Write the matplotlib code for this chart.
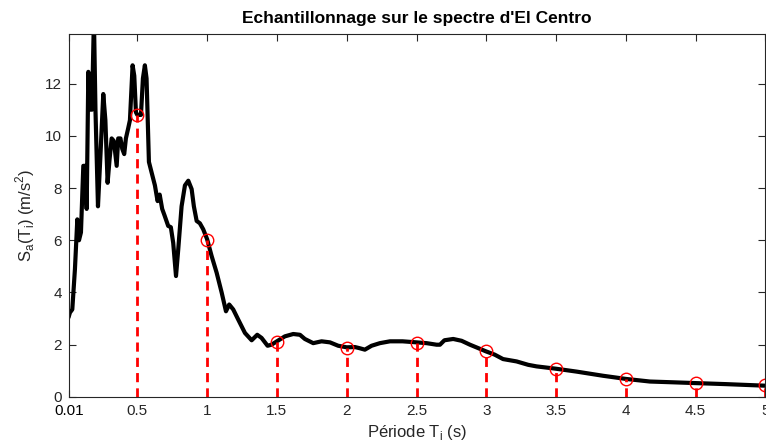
import numpy as np
import matplotlib.pyplot as plt

plt.rcParams['font.family'] = ['Liberation Sans', 'DejaVu Sans']

# spectre d'El Centro
T = [0.01, 0.017, 0.034, 0.053, 0.07, 0.082, 0.096, 0.113, 0.125, 0.137,
     0.149, 0.16, 0.168, 0.175, 0.189, 0.2, 0.218, 0.237, 0.256, 0.271,
     0.287, 0.301, 0.316, 0.332, 0.352, 0.363, 0.379, 0.392, 0.406, 0.418,
     0.435, 0.447, 0.466, 0.478, 0.49, 0.5, 0.526, 0.54, 0.554, 0.566,
     0.583, 0.602, 0.626, 0.645, 0.66, 0.678, 0.695, 0.721, 0.74, 0.757,
     0.777, 0.793, 0.817, 0.841, 0.865, 0.889, 0.905, 0.925, 0.948, 0.972,
     1.0, 1.032, 1.068, 1.104, 1.135, 1.158, 1.187, 1.223, 1.271, 1.319,
     1.359, 1.39, 1.433, 1.461, 1.5, 1.557, 1.617, 1.665, 1.70, 1.76,
     1.82, 1.88, 1.939, 2.0, 2.059, 2.09, 2.13, 2.178, 2.238, 2.31,
     2.40, 2.5, 2.572, 2.644, 2.668, 2.70, 2.763, 2.823, 2.883, 2.942,
     3.0, 3.06, 3.12, 3.217, 3.30, 3.36, 3.5, 3.647, 3.837, 4.0,
     4.172, 4.34, 4.5, 4.72, 5.0]
Sa = [3.1, 3.23, 3.35, 4.9, 6.8, 6.0, 6.3, 8.85, 8.85, 7.2,
      12.45, 11.0, 12.2, 11.0, 14.5, 11.0, 7.3, 9.4, 11.6, 10.6,
      8.2, 9.1, 9.9, 9.8, 8.85, 9.9, 9.9, 9.5, 9.3, 9.9,
      10.3, 10.6, 12.7, 12.3, 10.9, 10.8, 10.8, 12.2, 12.7, 12.2,
      9.0, 8.6, 8.1, 7.5, 7.75, 7.2, 6.95, 6.55, 6.5, 5.9,
      4.63, 5.65, 7.3, 8.1, 8.28, 7.96, 7.3, 6.74, 6.65, 6.42,
      6.04, 5.4, 4.76, 4.0, 3.28, 3.54, 3.35, 2.96, 2.45, 2.17,
      2.38, 2.26, 1.96, 2.0, 2.13, 2.32, 2.41, 2.38, 2.22, 2.06,
      2.13, 2.09, 1.96, 1.9, 1.91, 1.87, 1.81, 1.96, 2.06, 2.13,
      2.13, 2.09, 2.06, 2.0, 2.0, 2.17, 2.22, 2.15, 2.0, 1.87,
      1.74, 1.62, 1.45, 1.36, 1.23, 1.17, 1.08, 0.97, 0.81, 0.69,
      0.59, 0.56, 0.53, 0.49, 0.43]

# points echantillonnes
Ti = [0.5, 1.0, 1.5, 2.0, 2.5, 3.0, 3.5, 4.0, 4.5, 5.0]
Sa_i = [10.8, 6.0, 2.12, 1.88, 2.07, 1.75, 1.06, 0.70, 0.54, 0.45]

xticks = [0.01, 0.5, 1, 1.5, 2, 2.5, 3, 3.5, 4, 4.5, 5]
xticklabels = ['0.01', '0.5', '1', '1.5', '2', '2.5', '3', '3.5', '4', '4.5', '5']

grey = '#262626'

fig = plt.figure(figsize=(7.66, 4.47), dpi=100)
ax = fig.add_axes([0.090, 0.112, 0.9093, 0.812])

ax.plot(T, Sa, color='black', linewidth=3)
ax.vlines(Ti, 0, Sa_i, colors='red', linewidth=2, linestyles=(0, (3.3, 2.2)))
ax.plot(Ti, Sa_i, 'o', markersize=9, markerfacecolor='none',
        markeredgecolor='red', markeredgewidth=1)

ax.set_xlim(0.01, 5)
ax.set_ylim(0, 13.9)
ax.set_xticks(xticks)
ax.set_xticklabels(xticklabels)
ax.set_yticks([0, 2, 4, 6, 8, 10, 12])
ax.tick_params(direction='in', top=True, right=True, labelsize=11,
               colors=grey, length=5, width=0.8, pad=5)
ax.get_xticklabels()[0].set_color('black')
for s in ax.spines.values():
    s.set_color(grey)
    s.set_linewidth(0.8)

ax.set_title("Echantillonnage sur le spectre d'El Centro", fontsize=12.5,
             fontweight='bold', pad=8)
ax.set_xlabel('Période T$_\\mathregular{i}$ (s)', fontsize=12, color=grey)
ax.set_ylabel('S$_\\mathregular{a}$(T$_\\mathregular{i}$) (m/s$^\\mathregular{2}$)',
              fontsize=12, color=grey, labelpad=6)

fig.savefig('out.png', dpi=100)
